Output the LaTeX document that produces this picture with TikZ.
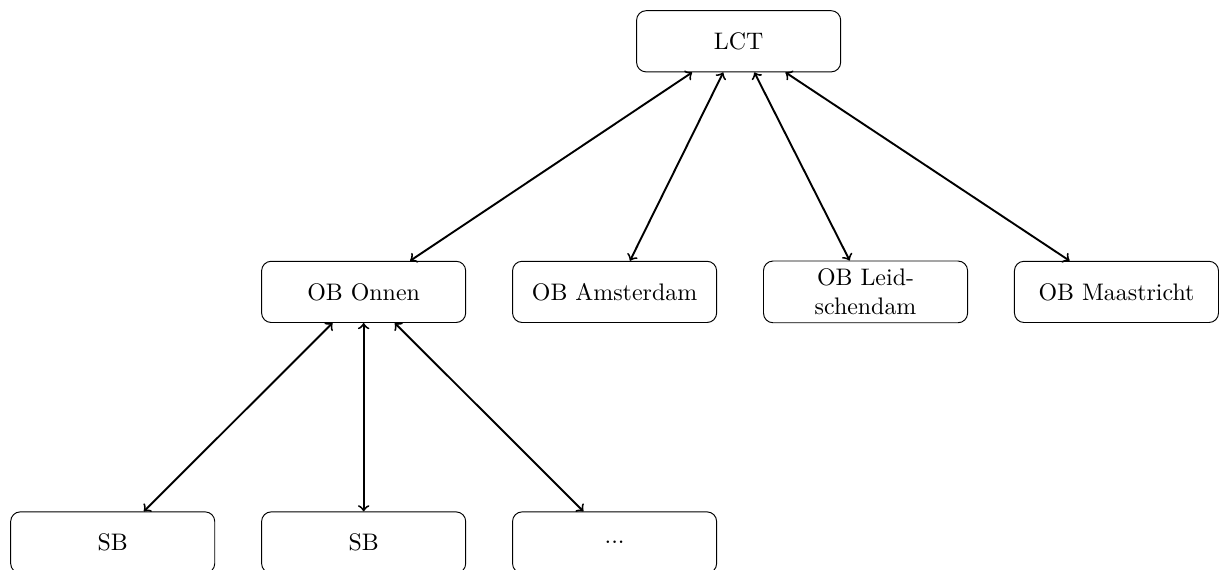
\documentclass[tikz,border=0pt]{standalone}
\usetikzlibrary{positioning}

\begin{document}
\begin{tikzpicture}[
  node distance=0.675cm,
  box/.style={draw,rounded corners,minimum width=3cm,minimum height=0.9cm,text width=2.5cm,align=center},
  link/.style={<->,thick}
]
  \node[box] (lct) {LCT};
  \node[box,below=2.77cm of lct,xshift=-5.5125cm] (onnen) {OB Onnen};
  \node[box,right=of onnen] (amsterdam) {OB Amsterdam};
  \node[box,right=of amsterdam] (leidschendam) {OB Leidschendam};
  \node[box,right=of leidschendam] (maastricht) {OB Maastricht};
  \node[box,below=2.77cm of onnen] (sbb) {SB};
  \node[box,left=of sbb] (sba) {SB};
  \node[box,right=of sbb] (more) {...};

  \draw[link] (lct) -- (onnen);
  \draw[link] (lct) -- (amsterdam);
  \draw[link] (lct) -- (leidschendam);
  \draw[link] (lct) -- (maastricht);
  \draw[link] (onnen) -- (sba);
  \draw[link] (onnen) -- (sbb);
  \draw[link] (onnen) -- (more);

  \pgfresetboundingbox
  \useasboundingbox ([xshift=-0.15cm]sba.west |- lct.north) ++(0,0.15cm) rectangle ([yshift=0.06cm]maastricht.east |- sba.south);
\end{tikzpicture}
\end{document}
